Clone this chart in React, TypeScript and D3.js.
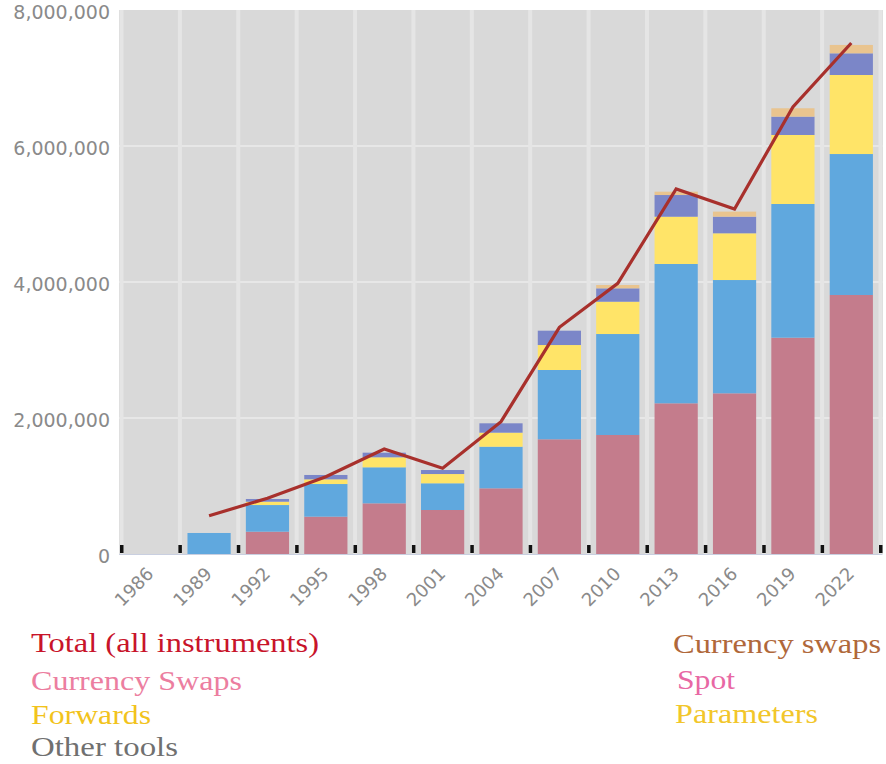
import React from "react";
import * as d3 from "d3";

const years = ["1986","1989","1992","1995","1998","2001","2004","2007","2010","2013","2016","2019","2022"];
const fxSwaps = [0, 0, 328, 549, 745, 647, 966, 1687, 1750, 2216, 2363, 3181, 3809];
const spot = [0, 309, 392, 480, 530, 393, 612, 1019, 1485, 2049, 1666, 1966, 2073];
const forwards = [0, 0, 49, 69, 147, 136, 206, 367, 475, 695, 687, 1015, 1162];
const options = [0, 0, 40, 64, 68, 59, 138, 211, 197, 319, 245, 270, 319];
const currSwaps = [0, 0, 0, 0, 0, 0, 0, 0, 49, 49, 74, 123, 123];
const totals = [null, 563, 820, 1137, 1544, 1260, 1946, 3334, 3981, 5368, 5074, 6574, 7515];
const yTicks = [0, 2000000, 4000000, 6000000, 8000000];

const seriesKeys = ["fxSwaps", "spot", "forwards", "options", "currSwaps"];
const seriesColors = ["#c47c8c", "#60a8de", "#ffe468", "#7b86c8", "#e9c48f"];

const legendLeft = [
  { text: "Total (all instruments)", color: "#c8142a", w: 288 },
  { text: "Currency Swaps", color: "#ec7ea0", w: 211 },
  { text: "Forwards", color: "#f2c31c", w: 120 },
  { text: "Other tools", color: "#707070", w: 147 },
];
const legendRight = [
  { text: "Currency swaps", color: "#b0683a", w: 208 },
  { text: "Spot", color: "#e868a4", w: 58 },
  { text: "Parameters", color: "#f2c62a", w: 143 },
];

export default function App() {
  const W = 886, H = 764;
  const left = 121.5, right = 880.5, top = 10, bottom = 554;
  const x = d3.scaleBand<string>().domain(years).range([left, right]).padding(0);
  const step = x.step();
  const y = d3.scaleLinear().domain([0, 8000000]).range([bottom, top]);

  const rows = years.map((yr, i) => ({
    year: yr,
    fxSwaps: fxSwaps[i] * 1000,
    spot: spot[i] * 1000,
    forwards: forwards[i] * 1000,
    options: options[i] * 1000,
    currSwaps: currSwaps[i] * 1000,
  }));
  const stacked = d3.stack<any>().keys(seriesKeys)(rows);

  const linePts = years
    .map((yr, i) => ({ yr, v: totals[i] }))
    .filter((d) => d.v != null) as { yr: string; v: number }[];
  const line = d3
    .line<{ yr: string; v: number }>()
    .x((d) => (x(d.yr) as number) + step / 2)
    .y((d) => y(d.v * 1000));

  const boundaries = d3.range(years.length + 1).map((i) => left + i * step);
  const fmt = d3.format(",");
  const leftY = [652, 690, 724, 756];
  const rightY = [653, 689, 723];

  return (
    <svg width={W} height={H} style={{ position: "absolute", left: 0, top: 0, background: "#fff" }}>
      <rect x={119} y={top} width={right - 119 + 2.5} height={bottom - top} fill="#d9d9d9" />
      {yTicks.slice(1, -1).map((t) => (
        <line key={t} x1={119} x2={right + 2} y1={y(t)} y2={y(t)} stroke="#e7e7e7" strokeWidth={2} />
      ))}
      {boundaries.map((b, i) => (
        <line key={i} x1={b} x2={b} y1={top} y2={bottom} stroke="#e5e5e5" strokeWidth={4} />
      ))}
      {stacked.map((s, si) =>
        s.map((d, i) =>
          d[1] - d[0] > 0 ? (
            <rect
              key={si + "-" + i}
              x={(x(years[i]) as number) + step * 0.13}
              width={step * 0.74}
              y={y(d[1])}
              height={y(d[0]) - y(d[1])}
              fill={seriesColors[si]}
            />
          ) : null
        )
      )}
      <line x1={119} x2={right + 2} y1={bottom + 0.5} y2={bottom + 0.5} stroke="#c9cfe0" strokeWidth={1} />
      {boundaries.map((b, i) => (
        <rect key={"t" + i} x={b - 1.5} y={bottom - 9} width={3.5} height={8} fill="#111" />
      ))}
      <path d={line(linePts) || ""} fill="none" stroke="#a8302c" strokeWidth={3.2} strokeLinejoin="miter" />
      {yTicks.map((t) => (
        <text
          key={t}
          x={110}
          y={y(t) + 9}
          textAnchor="end"
          fontFamily="'DejaVu Sans', Verdana, sans-serif"
          fontSize={19}
          fill="#8a8a8a"
        >
          {fmt(t)}
        </text>
      ))}
      {years.map((yr) => {
        const cx = (x(yr) as number) + step / 2 + 4;
        const cy = 575;
        return (
          <text
            key={yr}
            transform={`translate(${cx},${cy}) rotate(-45)`}
            textAnchor="end"
            fontFamily="'DejaVu Sans', Verdana, sans-serif"
            fontSize={18}
            fill="#8a8a8a"
          >
            {yr}
          </text>
        );
      })}
      {legendLeft.map((l, i) => (
        <text
          key={l.text}
          x={31}
          y={leftY[i]}
          fontFamily="'Liberation Serif', 'Times New Roman', serif"
          fontSize={28}
          fill={l.color}
          textLength={l.w}
          lengthAdjust="spacingAndGlyphs"
        >
          {l.text}
        </text>
      ))}
      {legendRight.map((l, i) => (
        <text
          key={l.text}
          x={i === 0 ? 673 : i === 1 ? 677 : 675}
          y={rightY[i]}
          fontFamily="'Liberation Serif', 'Times New Roman', serif"
          fontSize={28}
          fill={l.color}
          textLength={l.w}
          lengthAdjust="spacingAndGlyphs"
        >
          {l.text}
        </text>
      ))}
    </svg>
  );
}
